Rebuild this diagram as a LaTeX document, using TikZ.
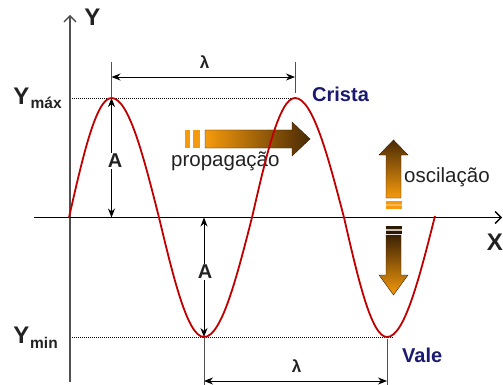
\documentclass[tikz,border=0pt]{standalone}
\usepackage{fontspec}
\setmainfont{Liberation Sans}
\usetikzlibrary{arrows.meta}
\definecolor{waveRed}{HTML}{C00000}
\definecolor{arOrange}{HTML}{F59A0C}
\definecolor{arBrown}{HTML}{4A2A05}
\definecolor{navyTxt}{HTML}{1A1A70}
\definecolor{txtGray}{HTML}{222222}
\definecolor{axGray}{HTML}{505050}
\tikzset{
  wave/.style={draw=waveRed, line width=1.8pt},
  axisline/.style={line width=1.3pt, -{Straight Barb[length=6pt,width=12pt,line width=1.3pt]}},
  dimline/.style={line width=0.9pt, {Stealth[length=9pt,width=7pt]}-{Stealth[length=9pt,width=7pt]}},
  tickline/.style={line width=0.9pt, draw=axGray},
  dotline/.style={line width=0.8pt, dash pattern=on 1pt off 1pt},
  bigY/.style={font=\fontsize{24}{26}\selectfont\bfseries, text=txtGray, inner sep=0pt},
  subY/.style={font=\fontsize{15.5}{17}\selectfont\bfseries, text=txtGray, inner sep=0pt},
  ampl/.style={font=\fontsize{20}{22}\selectfont\bfseries, text=txtGray, fill=white, inner sep=1.5pt},
  lam/.style={font=\fontsize{17}{19}\selectfont\bfseries, text=txtGray, inner sep=0pt},
  label/.style={font=\fontsize{20}{22}\selectfont\bfseries, text=navyTxt, inner sep=0pt},
  word/.style={font=\fontsize{20.5}{22}\selectfont, text=txtGray, inner sep=0pt},
  arrbody/.style={draw=arBrown!70!black, line width=0.4pt}
}
\begin{document}
\begin{tikzpicture}[x=1pt,y=-1pt]
\useasboundingbox (0,0) rectangle (503,385);
\fill[white] (0,0) rectangle (503,385);

% key coordinates
\coordinate (O) at (70,217.5);
\coordinate (ytop) at (70,15);
\coordinate (ybot) at (70,382);
\coordinate (xleft) at (34,217.5);
\coordinate (xright) at (502,217.5);
\coordinate (crest1) at (111.5,98);
\coordinate (crest2) at (295,98);
\coordinate (trough1) at (204,337);
\coordinate (trough2) at (387,337);
\coordinate (ymaxL) at (70,98);
\coordinate (yminL) at (70,337);
\coordinate (yminR) at (393,337);
\coordinate (c1up) at (111.5,62);
\coordinate (c2up) at (295,62);
\coordinate (c2low) at (295,93);
\coordinate (c1dim) at (111.5,77);
\coordinate (c2dim) at (295,77);
\coordinate (ax1) at (111.5,217.5);
\coordinate (ax2) at (204,217.5);
\coordinate (t1down) at (204,385);
\coordinate (t2down) at (387,385);
\coordinate (t2top) at (387,339);
\coordinate (t1dim) at (204,381);
\coordinate (t2dim) at (387,381);

% dotted reference lines
\draw[dotline] (ymaxL) -- (crest2);
\draw[dotline] (yminL) -- (yminR);

% axes
\draw[axisline, draw=axGray] (ybot) -- (ytop);
\draw[axisline, draw=black] (xleft) -- (xright);

% wavelength dimension lines
\draw[tickline] (c1up) -- (crest1);
\draw[tickline] (c2up) -- (c2low);
\draw[dimline] (c1dim) -- (c2dim);
\draw[tickline] (trough1) -- (t1down);
\draw[tickline] (t2top) -- (t2down);
\draw[dimline] (t1dim) -- (t2dim);

% amplitude arrows
\draw[dimline] (crest1) -- (ax1);
\draw[dimline] (ax2) -- (trough1);
\node[ampl] (A1) at (115,161) {A};
\node[ampl] (A2) at (205,272) {A};

% lambda labels
\node[lam, anchor=base] (lam1) at (204.5,68.5) {λ};
\node[lam, anchor=base] (lam2) at (296.5,372.5) {λ};

% axis labels
\node[bigY, anchor=base] (Ylab) at (92.5,26) {Y};
\node[bigY, anchor=base east] (Xlab) at (503,250) {X};
\node[bigY, anchor=base] (Ymax) at (21.5,104.5) {Y};
\node[subY, anchor=base west] (maxsub) at (30.5,108.5) {máx};
\node[bigY, anchor=base] (Ymin) at (21.5,343.5) {Y};
\node[subY, anchor=base west] (minsub) at (30,348.5) {min};

% propagation arrow
\fill[arOrange] (185,130) rectangle (190,148);
\fill[arOrange] (193,130) rectangle (200,148);
\shade[left color=arOrange, right color=arBrown, arrbody]
  (205,130) -- (292,130) -- (292,122) -- (310,139) -- (292,156) -- (292,148) -- (205,148) -- cycle;
\node[word, anchor=base west] (prop) at (171,166) {propagação};

% oscillation arrows
\fill[arOrange] (386,201) rectangle (402,204);
\fill[arOrange!70!white] (386,204) rectangle (402,205.5);
\fill[arOrange] (386,205.5) rectangle (402,208.5);
\shade[top color=arBrown, bottom color=arOrange, arrbody]
  (386,198) -- (386,155) -- (379,155) -- (393.5,140) -- (408,155) -- (401,155) -- (401,198) -- cycle;
\fill[arBrown!60!black] (386,226) rectangle (402,229);
\fill[arBrown!30!white] (386,229) rectangle (402,230.5);
\fill[arBrown!60!black] (386,230.5) rectangle (402,234);
\shade[top color=arBrown!80!black, bottom color=arOrange, arrbody]
  (386,235) -- (386,275) -- (379,275) -- (393.5,295) -- (408,275) -- (401,275) -- (401,235) -- cycle;
\node[word, anchor=base west] (osc) at (404,182) {oscilação};

% wave
\draw[wave] (69,217.5) sin (crest1) cos (159,217.5) sin (trough1) cos (252,217.5)
  sin (crest2) cos (344,217.5) sin (trough2) cos (435,216);

% crest / trough labels
\node[label, anchor=base west] (crista) at (312,102) {Crista};
\node[label, anchor=base west] (vale) at (402,362) {Vale};
\end{tikzpicture}
\end{document}
